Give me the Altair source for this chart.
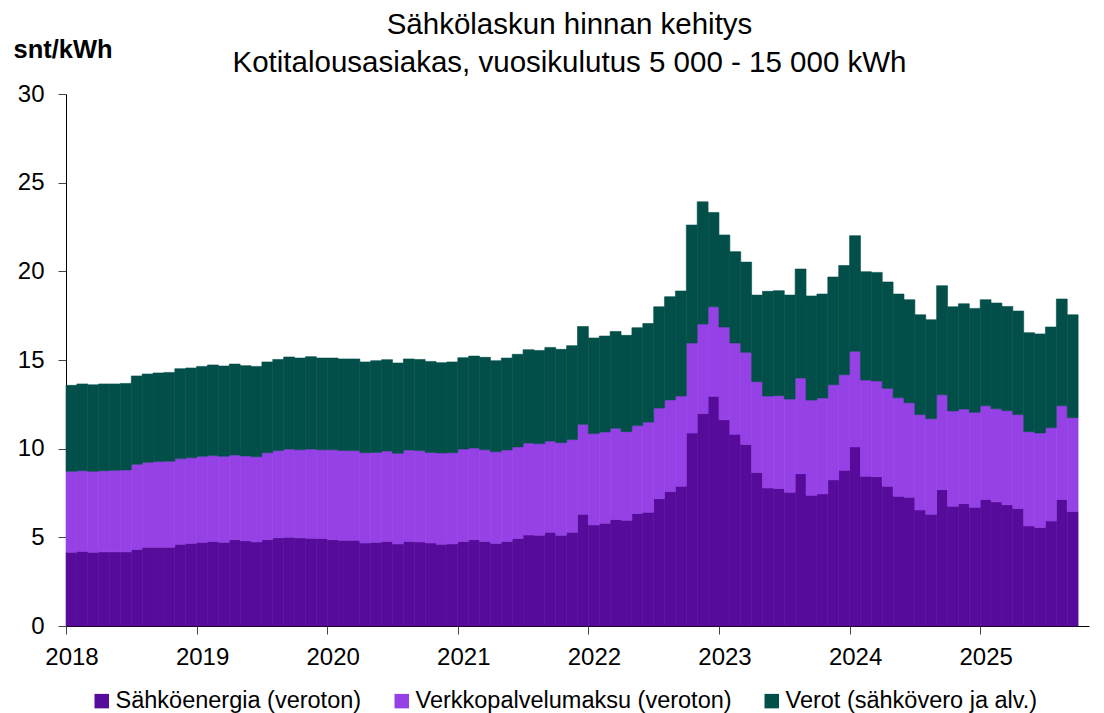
import altair as alt
import pandas as pd

# Monthly data, Jan 2018 - Sep 2025 (snt/kWh)
energy = [4.16, 4.21, 4.16, 4.18, 4.18, 4.18, 4.32, 4.44, 4.44, 4.44, 4.61, 4.66,
          4.72, 4.77, 4.72, 4.87, 4.80, 4.74, 4.87, 4.98, 5.00, 4.97, 4.95, 4.93,
          4.87, 4.83, 4.83, 4.68, 4.72, 4.77, 4.63, 4.77, 4.74, 4.68, 4.61, 4.63,
          4.77, 4.87, 4.77, 4.66, 4.77, 4.93, 5.13, 5.12, 5.28, 5.12, 5.28, 6.30,
          5.70, 5.79, 6.01, 5.96, 6.34, 6.41, 7.18, 7.58, 7.88, 10.88, 11.99, 12.95,
          11.63, 10.81, 10.24, 8.65, 7.78, 7.76, 7.54, 8.59, 7.37, 7.45, 8.24, 8.78,
          10.10, 8.44, 8.42, 7.88, 7.31, 7.26, 6.54, 6.30, 7.69, 6.75, 6.90, 6.69,
          7.14, 7.00, 6.84, 6.63, 5.64, 5.56, 5.92, 7.13, 6.45]
network = [4.56, 4.55, 4.56, 4.58, 4.60, 4.62, 4.80, 4.79, 4.83, 4.85, 4.83, 4.83,
           4.85, 4.84, 4.85, 4.77, 4.79, 4.81, 4.90, 4.91, 4.98, 4.97, 5.03, 5.01,
           5.07, 5.06, 5.06, 5.09, 5.07, 5.10, 5.11, 5.16, 5.15, 5.11, 5.15, 5.14,
           5.21, 5.17, 5.17, 5.17, 5.16, 5.17, 5.19, 5.16, 5.15, 5.22, 5.23, 5.07,
           5.15, 5.15, 5.14, 5.00, 4.96, 5.09, 5.11, 5.17, 5.09, 5.08, 5.04, 5.05,
           5.23, 5.15, 5.19, 5.13, 5.19, 5.23, 5.26, 5.40, 5.37, 5.41, 5.37, 5.39,
           5.39, 5.43, 5.40, 5.52, 5.56, 5.33, 5.38, 5.39, 5.35, 5.38, 5.34, 5.36,
           5.28, 5.25, 5.30, 5.29, 5.32, 5.33, 5.26, 5.29, 5.30]
taxes = [4.85, 4.89, 4.88, 4.89, 4.87, 4.88, 4.98, 4.98, 5.00, 5.01, 5.07, 5.06,
         5.07, 5.11, 5.09, 5.13, 5.09, 5.09, 5.12, 5.14, 5.19, 5.17, 5.21, 5.17,
         5.17, 5.17, 5.17, 5.12, 5.17, 5.15, 5.09, 5.13, 5.14, 5.13, 5.09, 5.12,
         5.15, 5.18, 5.21, 5.13, 5.18, 5.22, 5.26, 5.26, 5.28, 5.26, 5.30, 5.52,
         5.39, 5.41, 5.46, 5.43, 5.52, 5.56, 5.71, 5.82, 5.92, 6.65, 6.89, 5.32,
         5.19, 5.15, 5.09, 4.88, 5.90, 5.92, 5.86, 6.14, 5.87, 5.86, 6.07, 6.16,
         6.52, 6.11, 6.12, 6.00, 5.85, 5.81, 5.63, 5.58, 6.15, 5.87, 5.93, 5.86,
         5.98, 5.96, 5.88, 5.84, 5.58, 5.58, 5.68, 6.02, 5.80]

series_names = ["Sähköenergia (veroton)", "Verkkopalvelumaksu (veroton)", "Verot (sähkövero ja alv.)"]
series_colors = ["#570B9A", "#9541E6", "#024F4A"]
year_ticks = [0, 12, 24, 36, 48, 60, 72, 84]
first_year = 2018
FONT = "Liberation Sans"

rows = []
for i in range(len(energy)):
    for k, vals in enumerate([energy, network, taxes]):
        rows.append({"i": i, "i2": i + 1, "series": series_names[k], "order": k, "value": vals[i]})
df = pd.DataFrame(rows)

chart = alt.Chart(df).transform_stack(
    stack="value", groupby=["i"], as_=["y0", "y1"], sort=[alt.SortField("order", "ascending")]
).mark_bar(strokeWidth=0.6).encode(
    x=alt.X("i:Q", scale=alt.Scale(domain=[0, 94], nice=False, zero=False),
            axis=alt.Axis(values=year_ticks, labelExpr=f"{first_year} + datum.value / 12",
                          title=None, grid=False, domainColor="black", tickColor="#444",
                          tickSize=8, labelFontSize=24, labelFont=FONT, labelColor="black",
                          labelOffset=5.5, labelPadding=11, labelFlush=False)),
    x2="i2:Q",
    y=alt.Y("y0:Q", scale=alt.Scale(domain=[0, 30], nice=False),
            axis=alt.Axis(values=[0, 5, 10, 15, 20, 25, 30], grid=False, domainColor="black",
                          tickColor="#444", tickSize=8, labelFontSize=24, labelFont=FONT,
                          labelColor="black", labelPadding=14,
                          title="snt/kWh", titleAngle=0, titleAlign="left", titleBaseline="alphabetic",
                          titleX=-53, titleY=-37, titleFontSize=25.5, titleFont=FONT,
                          titleFontWeight="bold", titleColor="black")),
    y2="y1:Q",
    color=alt.Color("series:N", scale=alt.Scale(domain=series_names, range=series_colors),
                    legend=alt.Legend(orient="none", legendX=24, legendY=595, direction="horizontal",
                                      title=None, symbolType="square", symbolSize=210,
                                      symbolStrokeWidth=0, labelFontSize=23.5, labelFont=FONT,
                                      labelColor="black", labelOffset=2, columnPadding=28,
                                      labelLimit=500)),
    stroke=alt.Stroke("series:N", scale=alt.Scale(domain=series_names, range=series_colors), legend=None),
    order=alt.Order("order:Q"),
).properties(
    width=1023, height=532,
    autosize=alt.AutoSizeParams(type="none"),
    padding={"left": 58, "top": 86, "right": 5, "bottom": 92},
    title=alt.TitleParams(
        text=["Sähkölaskun hinnan kehitys", "Kotitalousasiakas, vuosikulutus 5 000 - 15 000 kWh"],
        fontSize=29.5, font=FONT, fontWeight="normal", color="black",
        lineHeight=38, anchor="middle", dx=-8, dy=59, offset=18),
).configure_view(stroke=None)

chart.save("out.html", embed_options={"renderer": "svg", "actions": False})
